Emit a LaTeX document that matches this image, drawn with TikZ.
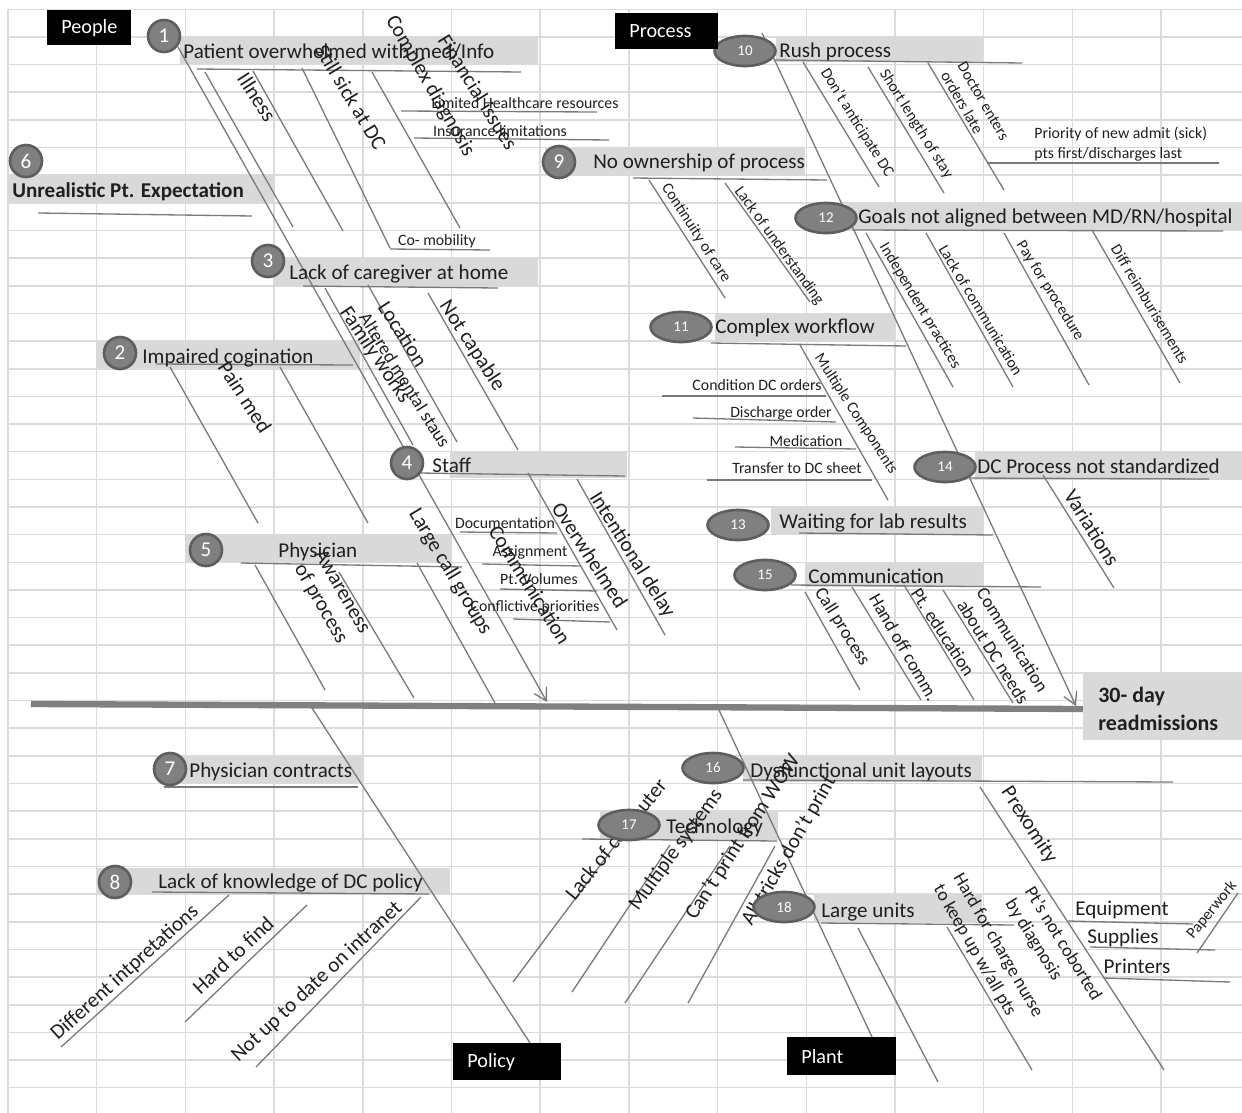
\documentclass[tikz,border=0pt]{standalone}
\usepackage{fontspec}
\setmainfont{Carlito}
\usetikzlibrary{shapes.geometric,arrows.meta}
\begin{document}
\begin{tikzpicture}[x=0.02cm,y=-0.02cm,
  gridline/.style={draw=black!14,line width=0.9pt},
  band/.style={fill=black!15},
  bone/.style={draw=black!52,line width=0.75pt},
  spine/.style={draw=black!50,line width=3.6pt},
  catbox/.style={fill=black,text=white,anchor=north west,inner xsep=0.28cm,inner ysep=0pt,align=left,font=\fontsize{11.5}{13}\selectfont},
  numc/.style={circle,fill=black!50,draw=black!63,line width=1.5pt,inner sep=0pt,minimum size=0.64cm,text=white,font=\fontsize{12}{14}\selectfont},
  oval/.style={ellipse,fill=black!50,draw=black!63,line width=1.5pt,inner sep=0pt,minimum width=1.22cm,minimum height=0.6cm,text=white,font=\fontsize{8.5}{10}\selectfont},
  headlab/.style={anchor=base west,inner sep=0pt,text=black!88,font=\fontsize{12}{14}\selectfont},
  biglab/.style={inner sep=0pt,text=black!88,font=\fontsize{12}{14}\selectfont},
  midlab/.style={inner sep=0pt,text=black!88,font=\fontsize{10.5}{13}\selectfont},
  smlab/.style={inner sep=0pt,text=black!88,font=\fontsize{9}{11}\selectfont},
  tip/.style={-{Straight Barb[length=7pt,width=8pt]}}]
\useasboundingbox (0,0) rectangle (1242,1113);
\foreach \k in {0,...,13} \draw[gridline] ({8+88.7*\k},9.3) -- ({8+88.7*\k},1113);
\foreach \k in {0,...,39} \draw[gridline] (8,{9.3+27.65*\k}) -- (1242,{9.3+27.65*\k});

\fill[band] (180,37) rectangle (538,64); \fill[band] (8,175) rectangle (273,203);
\fill[band] (273,258) rectangle (538,286); \fill[band] (96,341) rectangle (360,368);
\fill[band] (450,452) rectangle (627,478); \fill[band] (185,535) rectangle (452,562);
\fill[band] (545,147) rectangle (805,176); \fill[band] (776,37) rectangle (983,62);
\fill[band] (846,203) rectangle (1242,230); \fill[band] (715,313) rectangle (894,342);
\fill[band] (975,452) rectangle (1242,480); \fill[band] (771,507) rectangle (983,535);
\fill[band] (805,563) rectangle (983,587); \fill[band] (164,757) rectangle (362,783);
\fill[band] (97,868) rectangle (450,895); \fill[band] (743,757) rectangle (982,782);
\fill[band] (600,812) rectangle (778,840); \fill[band] (814,895) rectangle (982,922);

\coordinate (s0) at (31,704); \coordinate (s1) at (1083,709); \draw[spine] (s0)--(s1);

\coordinate (pa) at (178,47); \coordinate (pb) at (547,702); \draw[bone,tip] (pa)--(pb);
\coordinate (u1a) at (197,69); \coordinate (u1b) at (521,72); \draw[bone] (u1a)--(u1b);
\coordinate (b1a) at (205,72); \coordinate (b1b) at (293,227); \draw[bone] (b1a)--(b1b);
\coordinate (b1c) at (253,71); \coordinate (b1d) at (343,231); \draw[bone] (b1c)--(b1d);
\coordinate (b1e) at (302,68); \coordinate (b1f) at (390,248); \draw[bone] (b1e)--(b1f);
\coordinate (b1g) at (372,72); \coordinate (b1h) at (460,228); \draw[bone] (b1g)--(b1h);
\coordinate (u1c) at (390,249); \coordinate (u1d) at (490,250); \draw[bone] (u1c)--(u1d);
\coordinate (u1e) at (401,111); \coordinate (u1f) at (597,112); \draw[bone] (u1e)--(u1f);
\coordinate (u1g) at (414,138); \coordinate (u1h) at (609,140); \draw[bone] (u1g)--(u1h);
\coordinate (u6a) at (38,213); \coordinate (u6b) at (252,216); \draw[bone] (u6a)--(u6b);
\coordinate (u3a) at (303,286); \coordinate (u3b) at (498,288); \draw[bone] (u3a)--(u3b);
\coordinate (b3a) at (325,288); \coordinate (b3b) at (413,445); \draw[bone] (b3a)--(b3b);
\coordinate (b3c) at (368,285); \coordinate (b3d) at (457,442); \draw[bone] (b3c)--(b3d);
\coordinate (b3e) at (428,293); \coordinate (b3f) at (518,450); \draw[bone] (b3e)--(b3f);
\coordinate (u2a) at (156,364); \coordinate (u2b) at (353,365); \draw[bone] (u2a)--(u2b);
\coordinate (b2a) at (170,367); \coordinate (b2b) at (258,523); \draw[bone] (b2a)--(b2b);
\coordinate (b2c) at (280,367); \coordinate (b2d) at (368,523); \draw[bone] (b2c)--(b2d);
\coordinate (u4a) at (420,473); \coordinate (u4b) at (625,476); \draw[bone] (u4a)--(u4b);
\coordinate (b4a) at (528,473); \coordinate (b4b) at (617,630); \draw[bone] (b4a)--(b4b);
\coordinate (b4c) at (577,479); \coordinate (b4d) at (665,635); \draw[bone] (b4c)--(b4d);
\coordinate (u4c) at (460,532); \coordinate (u4d) at (557,533); \draw[bone] (u4c)--(u4d);
\coordinate (u4e) at (482,564); \coordinate (u4f) at (580,566); \draw[bone] (u4e)--(u4f);
\coordinate (u4g) at (500,589); \coordinate (u4h) at (597,591); \draw[bone] (u4g)--(u4h);
\coordinate (u4i) at (513,619); \coordinate (u4j) at (610,622); \draw[bone] (u4i)--(u4j);
\coordinate (u5a) at (241,563); \coordinate (u5b) at (462,567); \draw[bone] (u5a)--(u5b);
\coordinate (b5a) at (255,565); \coordinate (b5b) at (325,690); \draw[bone] (b5a)--(b5b);
\coordinate (b5c) at (339,572); \coordinate (b5d) at (414,698); \draw[bone] (b5c)--(b5d);
\coordinate (b5e) at (417,563); \coordinate (b5f) at (495,703); \draw[bone] (b5e)--(b5f);

\coordinate (qa) at (762,33); \coordinate (qb) at (1076,706); \draw[bone,tip] (qa)--(qb);
\coordinate (u10a) at (774,60); \coordinate (u10b) at (1022,63); \draw[bone] (u10a)--(u10b);
\coordinate (b10a) at (803,62); \coordinate (b10b) at (879,187); \draw[bone] (b10a)--(b10b);
\coordinate (b10c) at (868,67); \coordinate (b10d) at (944,193); \draw[bone] (b10c)--(b10d);
\coordinate (b10e) at (928,63); \coordinate (b10f) at (1004,190); \draw[bone] (b10e)--(b10f);
\coordinate (u10c) at (987,163); \coordinate (u10d) at (1219,163); \draw[bone] (u10c)--(u10d);
\coordinate (u9a) at (633,178); \coordinate (u9b) at (827,180); \draw[bone] (u9a)--(u9b);
\coordinate (b9a) at (649,180); \coordinate (b9b) at (725,298); \draw[bone] (b9a)--(b9b);
\coordinate (b9c) at (725,183); \coordinate (b9d) at (810,302); \draw[bone] (b9c)--(b9d);
\coordinate (u12a) at (852,230); \coordinate (u12b) at (1223,231); \draw[bone] (u12a)--(u12b);
\coordinate (b12a) at (866,233); \coordinate (b12b) at (953,387); \draw[bone] (b12a)--(b12b);
\coordinate (b12c) at (926,233); \coordinate (b12d) at (1013,387); \draw[bone] (b12c)--(b12d);
\coordinate (b12e) at (1004,233); \coordinate (b12f) at (1089,385); \draw[bone] (b12e)--(b12f);
\coordinate (b12g) at (1092,230); \coordinate (b12h) at (1180,383); \draw[bone] (b12g)--(b12h);
\coordinate (u11a) at (711,343); \coordinate (u11b) at (906,346); \draw[bone] (u11a)--(u11b);
\coordinate (b11a) at (800,345); \coordinate (b11b) at (888,500); \draw[bone] (b11a)--(b11b);
\coordinate (u11c) at (662,396); \coordinate (u11d) at (826,396); \draw[bone] (u11c)--(u11d);
\coordinate (u11e) at (693,418); \coordinate (u11f) at (836,422); \draw[bone] (u11e)--(u11f);
\coordinate (u11g) at (735,447); \coordinate (u11h) at (856,449); \draw[bone] (u11g)--(u11h);
\coordinate (u11i) at (707,480); \coordinate (u11j) at (872,480); \draw[bone] (u11i)--(u11j);
\coordinate (u14a) at (969,478); \coordinate (u14b) at (1209,479); \draw[bone] (u14a)--(u14b);
\coordinate (b14a) at (1043,475); \coordinate (b14b) at (1114,588); \draw[bone] (b14a)--(b14b);
\coordinate (u13a) at (799,533); \coordinate (u13b) at (993,535); \draw[bone] (u13a)--(u13b);
\coordinate (u15a) at (791,585); \coordinate (u15b) at (1041,587); \draw[bone] (u15a)--(u15b);
\coordinate (b15a) at (805,592); \coordinate (b15b) at (860,690); \draw[bone] (b15a)--(b15b);
\coordinate (b15c) at (852,587); \coordinate (b15d) at (921,700); \draw[bone] (b15c)--(b15d);
\coordinate (b15e) at (904,585); \coordinate (b15f) at (974,700); \draw[bone] (b15e)--(b15f);
\coordinate (b15g) at (943,590); \coordinate (b15h) at (1013,703); \draw[bone] (b15g)--(b15h);

\coordinate (ra) at (312,708); \coordinate (rb) at (530,1043); \draw[bone] (ra)--(rb);
\coordinate (u7a) at (164,787); \coordinate (u7b) at (358,787); \draw[bone] (u7a)--(u7b);
\coordinate (u8a) at (152,892); \coordinate (u8b) at (429,894); \draw[bone] (u8a)--(u8b);
\coordinate (b8a) at (229,895); \coordinate (b8b) at (61,1047); \draw[bone] (b8a)--(b8b);
\coordinate (b8c) at (307,905); \coordinate (b8d) at (185,1022); \draw[bone] (b8c)--(b8d);
\coordinate (b8e) at (421,897); \coordinate (b8f) at (256,1067); \draw[bone] (b8e)--(b8f);

\coordinate (ta) at (719,710); \coordinate (tb) at (872,1037); \draw[bone] (ta)--(tb);
\coordinate (u16a) at (743,780); \coordinate (u16b) at (1173,782); \draw[bone] (u16a)--(u16b);
\coordinate (b16a) at (980,787); \coordinate (b16b) at (1164,1070); \draw[bone] (b16a)--(b16b);
\coordinate (u16c) at (1068,921); \coordinate (u16d) at (1193,924); \draw[bone] (u16c)--(u16d);
\coordinate (u16e) at (1090,947); \coordinate (u16f) at (1215,950); \draw[bone] (u16e)--(u16f);
\coordinate (u16g) at (1103,978); \coordinate (u16h) at (1230,982); \draw[bone] (u16g)--(u16h);
\coordinate (b16c) at (1238,893); \coordinate (b16d) at (1197,953); \draw[bone] (b16c)--(b16d);
\coordinate (u17a) at (582,839); \coordinate (u17b) at (777,841); \draw[bone] (u17a)--(u17b);
\coordinate (b17a) at (619,840); \coordinate (b17b) at (513,982); \draw[bone] (b17a)--(b17b);
\coordinate (b17c) at (670,845); \coordinate (b17d) at (572,992); \draw[bone] (b17c)--(b17d);
\coordinate (b17e) at (730,846); \coordinate (b17f) at (625,1003); \draw[bone] (b17e)--(b17f);
\coordinate (b17g) at (775,846); \coordinate (b17h) at (688,1003); \draw[bone] (b17g)--(b17h);
\coordinate (u18a) at (821,923); \coordinate (u18b) at (1014,925); \draw[bone] (u18a)--(u18b);
\coordinate (b18a) at (858,928); \coordinate (b18b) at (938,1082); \draw[bone] (b18a)--(b18b);
\coordinate (b18c) at (947,927); \coordinate (b18d) at (1032,1070); \draw[bone] (b18c)--(b18d);

\node[headlab] (h1) at (183,58) {Patient overwhelmed with med/Info};
\node[headlab,font=\fontsize{12}{14}\selectfont\bfseries] (h6) at (12,197) {Unrealistic Pt. Expectation};
\node[headlab] (h3) at (289,279) {Lack of caregiver at home};
\node[headlab] (h2) at (142,363) {Impaired cogination};
\node[headlab] (h4) at (432,472) {Staff};
\node[headlab] (h5) at (278,557) {Physician};
\node[headlab] (h9) at (593,168) {No ownership of process};
\node[headlab] (h10) at (779,57) {Rush process};
\node[headlab] (h12) at (858,223) {Goals not aligned between MD/RN/hospital};
\node[headlab] (h11) at (715,333) {Complex workflow};
\node[headlab] (h14) at (977,473) {DC Process not standardized};
\node[headlab] (h13) at (779,528) {Waiting for lab results};
\node[headlab] (h15) at (808,583) {Communication};
\node[headlab] (h16) at (750,777) {Dysfunctional unit layouts};
\node[headlab] (h17) at (666,833) {Technology};
\node[headlab] (h18) at (821,917) {Large units};
\node[headlab] (h7) at (189,777) {Physician contracts};
\node[headlab] (h8) at (158,888) {Lack of knowledge of DC policy};

\node[biglab,rotate=-57] (l1) at (257,97) {Illness};
\node[biglab,rotate=-59] (l2) at (351,97) {Still sick at DC};
\node[biglab,rotate=-60] (l3) at (430,86) {Complex diagnosis};
\node[biglab,rotate=-58] (l4) at (478,92) {Financial issues};
\node[smlab] (l5) at (437,241) {Co- mobility};
\node[smlab] (l6) at (525,103) {Limited Healthcare resources};
\node[smlab] (l7) at (500,131) {Insurance limitations};
\node[biglab,rotate=-57] (l8) at (403,334) {Location};
\node[midlab,rotate=-58] (l9) at (405,380) {Altered mental staus};
\node[biglab,rotate=-56] (l10) at (375,355) {Family works};
\node[biglab,rotate=-57] (l11) at (472,346) {Not capable};
\node[biglab,rotate=-57] (l12) at (245,397) {Pain med};
\node[biglab,rotate=-57] (l13) at (590,555) {Overwhelmed};
\node[biglab,rotate=-58] (l14) at (632,555) {Intentional delay};
\node[biglab,rotate=-58] (l15) at (530,585) {Communication};
\node[biglab,rotate=-59] (l16) at (450,572) {Large call groups};
\node[biglab,rotate=-60,align=center] (l17) at (331,598) {Awareness\\of process};
\node[smlab] (l18) at (505,523) {Documentation};
\node[smlab] (l19) at (530,552) {Assignment};
\node[smlab] (l20) at (539,579) {Pt. Volumes};
\node[smlab] (l21) at (535,607) {Conflictive priorities};

\node[smlab,rotate=-58] (m1) at (857,123) {Don't anticipate DC};
\node[smlab,rotate=-58] (m2) at (916,124) {Short length of stay};
\node[smlab,rotate=-60,align=left] (m3) at (975,106) {Doctor enters\\orders late};
\node[smlab,anchor=west,align=left] (m4) at (1034,144) {Priority of new admit (sick)\\pts first/discharges last};
\node[smlab,rotate=-57] (m5) at (696,233) {Continuity of care};
\node[smlab,rotate=-54] (m6) at (779,246) {Lack of understanding};
\node[smlab,rotate=-59] (m7) at (920,306) {Independent practices};
\node[smlab,rotate=-59] (m8) at (981,310) {Lack of communication};
\node[smlab,rotate=-58] (m9) at (1050,291) {Pay for procedure};
\node[smlab,rotate=-59] (m10) at (1150,304) {Diff reimburisements};
\node[smlab,rotate=-57] (m11) at (856,414) {Multiple Components};
\node[smlab] (m12) at (757,385) {Condition DC orders};
\node[smlab] (m13) at (781,413) {Discharge order};
\node[smlab] (m14) at (806,441) {Medication};
\node[smlab] (m15) at (797,468) {Transfer to DC sheet};
\node[biglab,rotate=-58] (m16) at (1092,528) {Variations};
\node[midlab,rotate=-58] (m17) at (842,627) {Call process};
\node[midlab,rotate=-60] (m18) at (904,647) {Hand off comm.};
\node[midlab,rotate=-57] (m19) at (943,632) {Pt. education};
\node[midlab,rotate=-58,align=center] (m20) at (1003,646) {Communication\\about DC needs};

\node[biglab,rotate=42] (r1) at (125,973) {Different intpretations};
\node[biglab,rotate=43] (r2) at (233,955) {Hard to find};
\node[biglab,rotate=43] (r3) at (317,982) {Not up to date on intranet};

\node[biglab,rotate=51] (t1) at (617,840) {Lack of computer};
\node[biglab,rotate=54] (t2) at (676,850) {Multiple systems};
\node[biglab,rotate=57] (t3) at (743,837) {Can't print from WOW};
\node[biglab,rotate=60] (t4) at (789,851) {All tricks don't print};
\node[biglab,rotate=-57] (t5) at (1029,825) {Prexomity};
\node[midlab,rotate=-60,align=left] (t6) at (988,951) {Hard for charge nurse\\to keep up w/all pts};
\node[midlab,rotate=-58,align=left] (t7) at (1053,950) {Pt's not coborted\\by diagnosis};
\node[biglab] (t8) at (1122,910) {Equipment};
\node[biglab] (t9) at (1123,938) {Supplies};
\node[biglab] (t10) at (1137,966) {Printers};
\node[smlab,rotate=51] (t11) at (1212,910) {Paperwork};

\node[numc] (c1) at (164,36) {1}; \node[numc] (c6) at (26,161) {6};
\node[numc] (c3) at (268,261) {3}; \node[numc] (c2) at (120,353) {2};
\node[numc] (c4) at (407,463) {4}; \node[numc] (c5) at (206,550) {5};
\node[numc] (c9) at (559,162) {9}; \node[numc] (c7) at (170,769) {7};
\node[numc] (c8) at (115,882) {8};
\node[oval] (c10) at (745,51) {10}; \node[oval] (c12) at (826,218) {12};
\node[oval] (c11) at (681,327) {11}; \node[oval] (c14) at (945,467) {14};
\node[oval] (c13) at (738,525) {13}; \node[oval] (c15) at (765,575) {15};
\node[oval] (c16) at (713,768) {16}; \node[oval] (c17) at (629,825) {17};
\node[oval] (c18) at (784,907) {18};

\node[catbox,text width=1.12cm,minimum height=0.7cm] (people) at (47,10) {People};
\node[catbox,text width=1.5cm,minimum height=0.72cm] (process) at (615,13) {Process};
\node[catbox,text width=1.6cm,minimum height=0.74cm] (policy) at (453,1043) {Policy};
\node[catbox,text width=1.62cm,minimum height=0.76cm] (plant) at (787,1037) {Plant};

\node[fill=black!15,anchor=north west,minimum width=3.18cm,minimum height=1.32cm] (outbox) at (1083,674) {};
\node[anchor=base west,inner sep=0pt,text=black!88,font=\fontsize{12.5}{15}\selectfont\bfseries] (out1) at (1098,702) {30- day};
\node[anchor=base west,inner sep=0pt,text=black!88,font=\fontsize{12.5}{15}\selectfont\bfseries] (out2) at (1098,730) {readmissions};
\end{tikzpicture}
\end{document}
